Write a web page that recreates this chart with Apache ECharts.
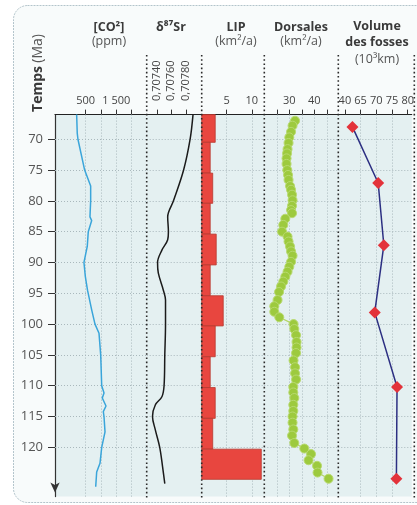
<!DOCTYPE html>
<html><head><meta charset="utf-8">
<script src="https://cdn.jsdelivr.net/npm/echarts@6/dist/echarts.min.js"></script>
<style>html,body{margin:0;padding:0;background:#fff}#c{width:417px;height:505px}</style>
</head><body><div id="c"></div>
<script>
// ---- Data (ages in Ma) ----
const AGE_TICKS = [70, 75, 80, 85, 90, 95, 100, 105, 110, 115, 120];

const CO2_MA  = [66, 69, 70, 75, 77.6, 80, 82.6, 83.2, 85, 87.4, 90, 92.2, 94.5, 97.7, 100, 101.5, 105, 110, 111.2, 112, 113.3, 114.2, 115, 117.5, 120, 122.6, 124, 126.4];
const CO2_PPM = [206, 225, 248, 467, 663, 663, 640, 696, 585, 552, 444, 487, 560, 696, 804, 935, 990, 1023, 1098, 1042, 1163, 1075, 1098, 1131, 1023, 967, 859, 827];
const CO2_TICKS = [500, 1000, 1500, 2000];
const CO2_LABELS = [500, 1500];

const SR_MA  = [66, 70, 75, 80, 82.6, 85, 86.3, 88, 90, 91.7, 94.5, 96.1, 100, 105, 110, 111.8, 113.1, 115, 117.2, 120, 123.2, 125.9];
const SR_VAL = [0.70790, 0.70786, 0.70777, 0.70763, 0.70755, 0.70756, 0.70755, 0.70747, 0.70741, 0.70742, 0.70749, 0.70752, 0.70752, 0.70751, 0.70750, 0.70747, 0.70738, 0.70734, 0.70738, 0.70744, 0.70748, 0.70751];
const SR_TICKS = [0.7074, 0.7076, 0.7078];

const LIP_TOP    = [66, 70.5, 75.5, 80.4, 85.4, 90.4, 95.4, 100.3, 105.3, 110.3, 115.3, 120.3];
const LIP_BOTTOM = [70.5, 75.5, 80.4, 85.4, 90.4, 95.4, 100.3, 105.3, 110.3, 115.3, 120.3, 125.2];
const LIP_VAL    = [2.7, 1.7, 2.2, 1.7, 2.9, 1.7, 4.3, 2.7, 1.7, 2.7, 2.2, 11.9];
const LIP_TICKS = [5, 10];

const DORS_MA  = [67.0, 67.8, 68.8, 69.7, 70.6, 71.6, 72.3, 73.1, 74.0, 75.0, 75.8, 76.6, 77.6, 78.2, 79.0, 79.9, 80.8, 81.5, 82.0, 82.9, 83.9, 85.0, 85.8, 86.6, 87.4, 88.2, 88.9, 89.9, 90.7, 91.5, 92.3, 93.1, 93.9, 94.8, 96.1, 97.1, 98.0, 98.9, 100.0, 100.8, 101.8, 102.9, 103.8, 104.7, 105.9, 107.0, 108.0, 109.0, 110.2, 111.1, 112.0, 113.1, 114.1, 115.0, 116.0, 117.1, 118.1, 119.3, 120.2, 121.1, 122.1, 123.0, 124.1, 125.1];
const DORS_VAL = [32.3, 31.3, 30.7, 30.0, 29.7, 29.3, 29.1, 28.9, 28.9, 29.2, 29.5, 29.7, 30.3, 30.7, 31.1, 31.3, 31.1, 30.7, 31.1, 28.4, 27.6, 27.1, 29.3, 29.7, 30.3, 30.7, 31.3, 30.7, 30.0, 29.3, 28.4, 27.6, 26.7, 25.9, 25.3, 24.0, 24.0, 26.0, 31.7, 32.0, 32.7, 32.9, 32.9, 32.7, 31.7, 32.3, 32.3, 32.7, 31.6, 31.6, 32.0, 31.6, 31.6, 31.3, 31.3, 31.6, 31.1, 32.0, 36.0, 38.7, 37.7, 41.1, 41.3, 45.7];
const DORS_TICKS = [25, 30, 35, 40, 45];
const DORS_LABELS = [30, 40];

const VOL_MA  = [68.0, 77.1, 87.2, 98.1, 110.2, 125.1];
const VOL_VAL = [52, 70.6, 72.4, 69.5, 76.6, 76.4];
const VOL_TICKS = [40, 65, 70, 75, 80];
const VOL_GRID = [65, 70, 75];

// broken axis for "Volume des fosses": 40..65 compressed into one tick step
const volPos = v => v >= 65 ? v : 60 + (v - 40) * 5 / 25;
const volInv = p => p >= 65 ? p : Math.round(40 + (p - 60) * 25 / 5);

// ---- Layout ----
const TOP = 114.6, HEIGHT = 382;
const PANELS = [
  {left: 55, width: 91.7},
  {left: 146.7, width: 55},
  {left: 201.7, width: 62.6},
  {left: 264.3, width: 74},
  {left: 338.3, width: 76}
];
const XR = [[-500, 2490], [0.70726, 0.70802], [0, 12.5], [20, 49.6], [57.9, 81.3]];

const font = "'Open Sans', 'Noto Sans', sans-serif";
const gridLineStyle = {color: '#a9b8bc', type: [1, 2], width: 1};

const grids = PANELS.map(p => ({left: p.left, top: TOP, width: p.width, height: HEIGHT,
  show: true, backgroundColor: '#e4f0f1', borderWidth: 0}));

function xAxisFor(i, ticks, labels, fmt, labelExtra) {
  return {
    type: 'value', gridIndex: i, position: 'top', min: XR[i][0], max: XR[i][1],
    axisLine: {show: true, onZero: false, lineStyle: {color: '#222', width: 1}},
    axisTick: {show: true, customValues: ticks, length: 5, lineStyle: {color: '#333'}},
    axisLabel: Object.assign({show: true, customValues: labels, formatter: fmt, color: '#444',
      fontSize: 11, fontFamily: font, margin: 8, hideOverlap: false}, labelExtra || {}),
    splitLine: {show: false}
  };
}

const srFmt = v => v.toFixed(5).replace('.', ',');
const xAxes = [
  xAxisFor(0, CO2_TICKS, CO2_LABELS, v => v === 1500 ? '1 500' : String(v)),
  xAxisFor(1, SR_TICKS, SR_TICKS, srFmt, {show: false}),
  xAxisFor(2, LIP_TICKS, LIP_TICKS, v => String(v)),
  xAxisFor(3, DORS_TICKS, DORS_LABELS, v => String(v)),
  xAxisFor(4, VOL_TICKS.map(volPos), VOL_TICKS.map(volPos), v => String(volInv(v)))
];

const yAxes = PANELS.map((p, i) => ({
  type: 'value', gridIndex: i, inverse: true, min: 66, max: 128,
  show: i === 0,
  axisLine: {show: i === 0, onZero: false, lineStyle: {color: '#333', width: 1.2},
    symbol: ['arrow', 'none'], symbolSize: [7, 10], symbolOffset: [4, 0]},
  axisTick: {show: true, customValues: AGE_TICKS, length: 7, lineStyle: {color: '#333'}},
  axisLabel: {show: true, customValues: AGE_TICKS, color: '#555', fontSize: 13, fontFamily: font, margin: 12},
  splitLine: {show: false}
}));

function gridMarks(xVals) {
  return {
    silent: true, symbol: ['none', 'none'], label: {show: false}, animation: false,
    lineStyle: gridLineStyle,
    emphasis: {disabled: true},
    data: AGE_TICKS.map(v => ({yAxis: v})).concat(xVals.map(v => ({xAxis: v})))
  };
}

const series = [
  {type: 'line', xAxisIndex: 0, yAxisIndex: 0, z: 10, showSymbol: false,
   data: CO2_MA.map((m, k) => [CO2_PPM[k], m]),
   lineStyle: {color: '#3aa5da', width: 1.5}, markLine: gridMarks(CO2_TICKS)},
  {type: 'line', xAxisIndex: 1, yAxisIndex: 1, z: 10, showSymbol: false, smooth: 0.35,
   data: SR_MA.map((m, k) => [SR_VAL[k], m]),
   lineStyle: {color: '#1b1b1b', width: 1.5}, markLine: gridMarks(SR_TICKS)},
  {type: 'custom', xAxisIndex: 2, yAxisIndex: 2, z: 10,
   data: LIP_VAL.map((v, k) => [v, LIP_TOP[k], LIP_BOTTOM[k]]),
   renderItem: (params, api) => {
     const a = api.coord([0, api.value(1)]);
     const b = api.coord([api.value(0), api.value(2)]);
     return {type: 'rect', shape: {x: a[0], y: a[1], width: b[0] - a[0], height: b[1] - a[1]},
       style: {fill: '#e8463f', stroke: '#b8392f', lineWidth: 0.8}};
   },
   markLine: gridMarks(LIP_TICKS)},
  {type: 'line', xAxisIndex: 3, yAxisIndex: 3, z: 10, symbol: 'circle', symbolSize: 9,
   data: DORS_MA.map((m, k) => [DORS_VAL[k], m]),
   lineStyle: {color: '#b3d466', width: 1.2},
   itemStyle: {color: '#9dca3e', borderColor: '#b8da70', borderWidth: 1},
   markLine: gridMarks(DORS_TICKS)},
  {type: 'line', xAxisIndex: 4, yAxisIndex: 4, z: 10, symbol: 'diamond', symbolSize: 12,
   data: VOL_MA.map((m, k) => [volPos(VOL_VAL[k]), m]),
   lineStyle: {color: '#2c2f82', width: 1.5},
   itemStyle: {color: '#e3323a'},
   markLine: gridMarks(VOL_GRID)}
];

// headers
const headerBold = {fontFamily: font, fontWeight: 'bold', fontSize: 12.5, fill: '#3a3a3a', textAlign: 'center', textVerticalAlign: 'middle'};
const headerNorm = {fontFamily: font, fontSize: 12.5, fill: '#555', textAlign: 'center', textVerticalAlign: 'middle'};
const HEADERS = [
  {x: 109, lines: ['[CO²]', '(ppm)']},
  {x: 171, lines: ['δ⁸⁷Sr']},
  {x: 236, lines: ['LIP', '(km²/a)']},
  {x: 301, lines: ['Dorsales', '(km²/a)']},
  {x: 377, lines: ['Volume', 'des fosses', '(10³km)']}
];
const graphics = [
  {type: 'rect', z: -10, shape: {x: 13.5, y: 5.5, width: 430, height: 497, r: 14},
   style: {fill: '#f8fbfb', stroke: '#b3c4cb', lineWidth: 1, lineDash: [2, 1]}}
];
HEADERS.forEach(h => {
  h.lines.forEach((t, k) => {
    let y;
    if (h.lines.length === 3) y = [26, 42, 59][k]; else y = [27, 41][k];
    const bold = (k === 0) || (h.lines.length === 3 && k === 1);
    graphics.push({type: 'text', x: h.x, y: y, style: Object.assign({text: t}, bold ? headerBold : headerNorm)});
  });
});
graphics.push({type: 'text', x: 38, y: 73, rotation: Math.PI / 2,
  style: {text: '{b|Temps} {n|(Ma)}', textAlign: 'center', textVerticalAlign: 'middle',
    rich: {b: {fontFamily: font, fontWeight: 'bold', fontSize: 14, fill: '#3a3a3a'},
           n: {fontFamily: font, fontSize: 14, fill: '#555'}}}});
// dotted panel separators
[146.7, 201.7, 264.3, 338.3, 414.3].forEach(x => {
  graphics.push({type: 'line', z: 100, shape: {x1: x, y1: 55, x2: x, y2: 498},
    style: {stroke: '#2a2a2a', lineWidth: 1.6, lineDash: [1.6, 2.6]}});
});

const chart = echarts.init(document.getElementById('c'), null, {renderer: 'canvas'});
chart.setOption({
  animation: false,
  backgroundColor: '#ffffff',
  grid: grids, xAxis: xAxes, yAxis: yAxes, series: series, graphic: graphics
});
// vertical Sr tick labels, positioned by the Sr axis scale
const srLabels = SR_TICKS.map(v => ({
  type: 'text', x: chart.convertToPixel({xAxisIndex: 1}, v), y: 101, rotation: Math.PI / 2,
  style: {text: srFmt(v), textAlign: 'left', textVerticalAlign: 'middle',
    fontFamily: font, fontSize: 11, fill: '#444'}
}));
chart.setOption({graphic: graphics.concat(srLabels)});
</script></body></html>
